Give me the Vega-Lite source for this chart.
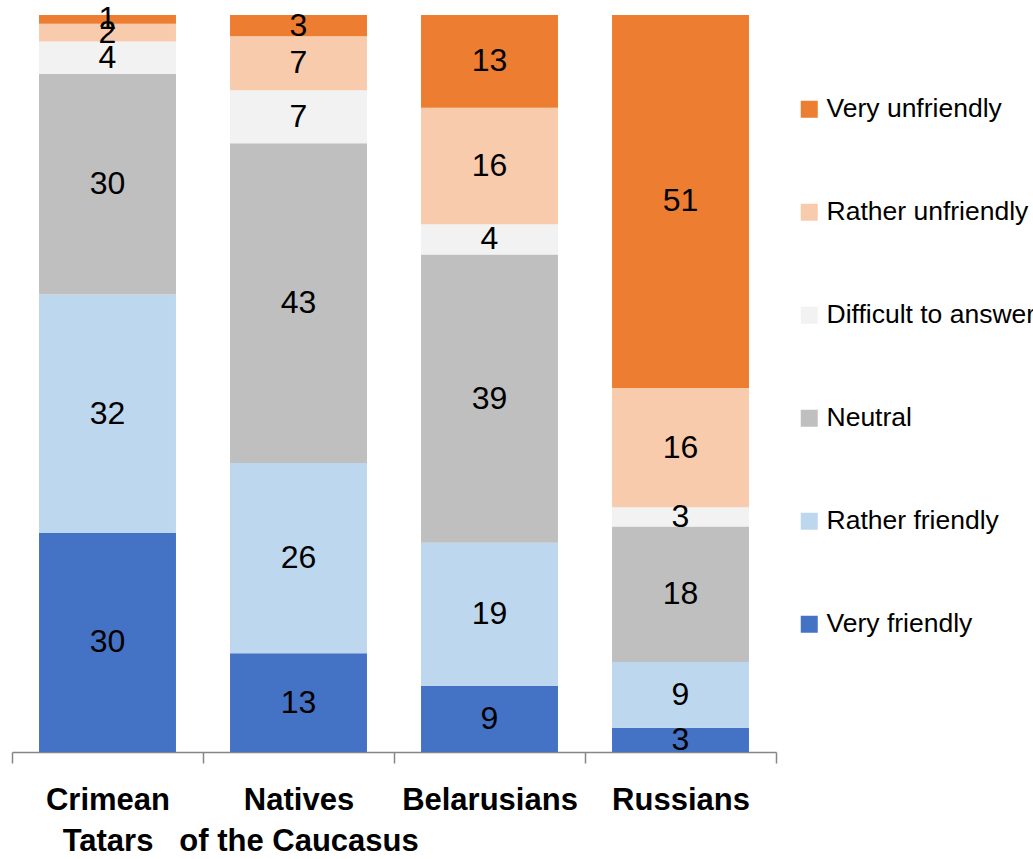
{
  "$schema": "https://vega.github.io/schema/vega-lite/v6.json",
  "width": 764,
  "height": 737,
  "autosize": {"type": "none"},
  "padding": {"left": 12, "top": 15, "right": 257, "bottom": 107},
  "config": {"view": {"stroke": null}, "font": "Liberation Sans"},
  "data": {
    "values": [
      {"group": "Crimean Tatars", "answer": "Very friendly", "order": 1, "value": 29.7},
      {"group": "Crimean Tatars", "answer": "Rather friendly", "order": 2, "value": 32.3},
      {"group": "Crimean Tatars", "answer": "Neutral", "order": 3, "value": 29.9},
      {"group": "Crimean Tatars", "answer": "Difficult to answer", "order": 4, "value": 4.4},
      {"group": "Crimean Tatars", "answer": "Rather unfriendly", "order": 5, "value": 2.4},
      {"group": "Crimean Tatars", "answer": "Very unfriendly", "order": 6, "value": 1.2},
      {"group": "Natives of the Caucasus", "answer": "Very friendly", "order": 1, "value": 13.4},
      {"group": "Natives of the Caucasus", "answer": "Rather friendly", "order": 2, "value": 25.8},
      {"group": "Natives of the Caucasus", "answer": "Neutral", "order": 3, "value": 43.4},
      {"group": "Natives of the Caucasus", "answer": "Difficult to answer", "order": 4, "value": 7.2},
      {"group": "Natives of the Caucasus", "answer": "Rather unfriendly", "order": 5, "value": 7.3},
      {"group": "Natives of the Caucasus", "answer": "Very unfriendly", "order": 6, "value": 2.9},
      {"group": "Belarusians", "answer": "Very friendly", "order": 1, "value": 9.0},
      {"group": "Belarusians", "answer": "Rather friendly", "order": 2, "value": 19.4},
      {"group": "Belarusians", "answer": "Neutral", "order": 3, "value": 39.1},
      {"group": "Belarusians", "answer": "Difficult to answer", "order": 4, "value": 4.1},
      {"group": "Belarusians", "answer": "Rather unfriendly", "order": 5, "value": 15.8},
      {"group": "Belarusians", "answer": "Very unfriendly", "order": 6, "value": 12.6},
      {"group": "Russians", "answer": "Very friendly", "order": 1, "value": 3.3},
      {"group": "Russians", "answer": "Rather friendly", "order": 2, "value": 8.9},
      {"group": "Russians", "answer": "Neutral", "order": 3, "value": 18.4},
      {"group": "Russians", "answer": "Difficult to answer", "order": 4, "value": 2.6},
      {"group": "Russians", "answer": "Rather unfriendly", "order": 5, "value": 16.2},
      {"group": "Russians", "answer": "Very unfriendly", "order": 6, "value": 50.6}
    ]
  },
  "transform": [
    {"stack": "value", "groupby": ["group"], "sort": [{"field": "order", "order": "ascending"}], "as": ["y0", "y1"], "offset": "normalize"},
    {"calculate": "(datum.y0 + datum.y1) / 2", "as": "ymid"}
  ],
  "encoding": {
    "x": {
      "field": "group",
      "type": "nominal",
      "sort": ["Crimean Tatars", "Natives of the Caucasus", "Belarusians", "Russians"],
      "scale": {"paddingInner": 0, "paddingOuter": 0},
      "axis": {
        "title": null,
        "labelAngle": 0,
        "labelExpr": "datum.value == 'Crimean Tatars' ? ['Crimean', 'Tatars'] : datum.value == 'Natives of the Caucasus' ? ['Natives', 'of the Caucasus'] : datum.value",
        "labelFontSize": 31,
        "labelFontWeight": "bold",
        "labelColor": "black",
        "labelLineHeight": 41,
        "labelPadding": 22,
        "labelLimit": 400,
        "labelBound": false,
        "labelOverlap": false,
        "tickBand": "extent",
        "tickSize": 11,
        "tickColor": "#868686",
        "tickWidth": 1.5,
        "domainColor": "#868686",
        "domainWidth": 1.5
      }
    }
  },
  "layer": [
    {
      "mark": {"type": "bar", "width": {"band": 0.717}},
      "encoding": {
        "y": {"field": "y0", "type": "quantitative", "scale": {"domain": [0, 1]}, "axis": null},
        "y2": {"field": "y1"},
        "color": {
          "field": "answer",
          "type": "nominal",
          "scale": {
            "domain": ["Very unfriendly", "Rather unfriendly", "Difficult to answer", "Neutral", "Rather friendly", "Very friendly"],
            "range": ["#ED7D31", "#F8CBAD", "#F2F2F2", "#BFBFBF", "#BDD7EE", "#4472C4"]
          },
          "legend": {
            "orient": "none",
            "legendX": 784,
            "legendY": 81,
            "title": null,
            "padding": 0,
            "symbolType": "square",
            "symbolSize": 289,
            "symbolStrokeWidth": 0,
            "symbolOpacity": 1,
            "labelFontSize": 26.5,
            "labelOffset": 4,
            "labelColor": "black",
            "labelLimit": 400,
            "rowPadding": 76
          }
        }
      }
    },
    {
      "mark": {"type": "text", "fontSize": 32, "baseline": "middle", "color": "black"},
      "encoding": {
        "y": {"field": "ymid", "type": "quantitative", "scale": {"domain": [0, 1]}},
        "text": {"field": "value", "type": "quantitative", "format": ".0f"}
      }
    }
  ]
}
